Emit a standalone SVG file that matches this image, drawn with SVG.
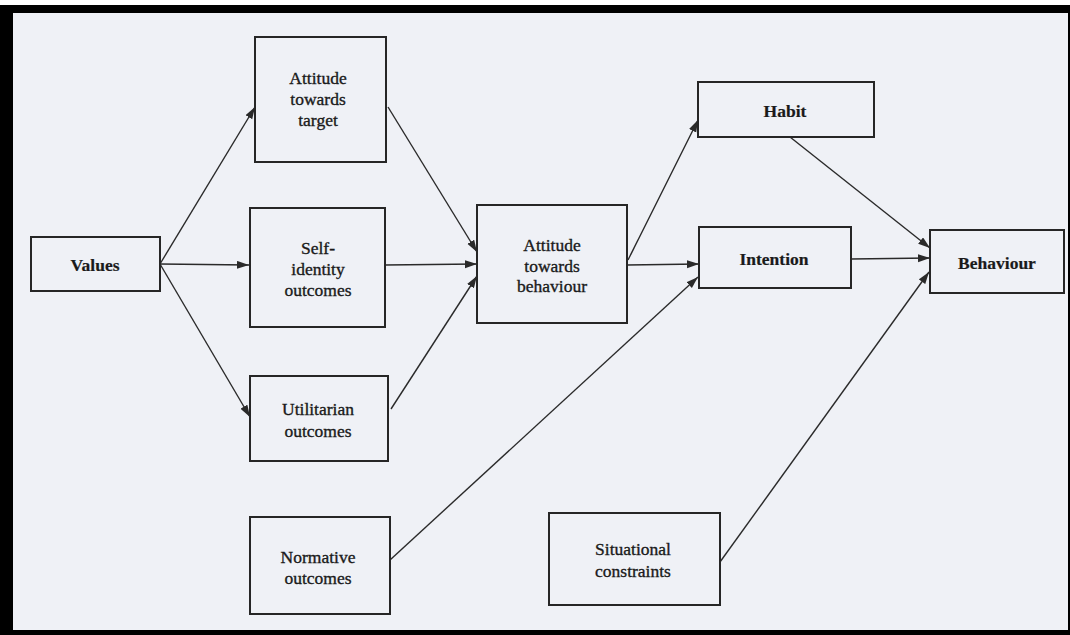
<svg xmlns="http://www.w3.org/2000/svg" width="1070" height="635" viewBox="0 0 1070 635">
<style>
.box{fill:none;stroke:#262626;stroke-width:2}
.lbl{font-family:"Liberation Serif","Times New Roman",serif;font-size:17.5px;fill:#1a1a1a;stroke:#1a1a1a;stroke-width:0.35;text-anchor:middle}
.b{font-weight:bold;stroke-width:0.2}
.edge{stroke:#2a2a2a;stroke-width:1.4;fill:none;marker-end:url(#ah)}
</style>
<defs>
<marker id="ah" markerUnits="userSpaceOnUse" markerWidth="13" markerHeight="9" refX="12" refY="4" orient="auto">
<path d="M0,0 L12,4 L0,8 Z" fill="#2a2a2a"/>
</marker>
</defs>
<rect x="0" y="0" width="1070" height="635" fill="#000"/>
<rect x="0" y="0" width="1070" height="5" fill="#fff"/>
<rect x="13" y="13" width="1055" height="617" fill="#eff1f6"/>
<g id="connectors">
<line class="edge" x1="160" y1="264" x2="255" y2="107"/>
<line class="edge" x1="160" y1="264" x2="249" y2="265"/>
<line class="edge" x1="160" y1="264" x2="250" y2="417"/>
<line class="edge" x1="388" y1="107" x2="477" y2="252"/>
<line class="edge" x1="385" y1="265" x2="477" y2="264"/>
<line class="edge" x1="391" y1="409" x2="477" y2="276"/>
<line class="edge" x1="628" y1="260" x2="698" y2="120"/>
<line class="edge" x1="627" y1="265" x2="699" y2="264"/>
<line class="edge" x1="390" y1="560" x2="698" y2="277"/>
<line class="edge" x1="790" y1="137" x2="930" y2="248"/>
<line class="edge" x1="851" y1="259" x2="930" y2="258"/>
<line class="edge" x1="720" y1="562" x2="929" y2="272"/>
</g>
<g id="values"><rect class="box" x="31" y="237" width="129" height="54"/><text class="lbl b" x="95" y="271">Values</text></g>
<g id="attitude-target"><rect class="box" x="255" y="37" width="131" height="125"/><text class="lbl" x="318" y="84">Attitude</text><text class="lbl" x="318" y="105">towards</text><text class="lbl" x="318" y="126">target</text></g>
<g id="self-identity"><rect class="box" x="250" y="208" width="135" height="119"/><text class="lbl" x="318" y="254">Self-</text><text class="lbl" x="318" y="275">identity</text><text class="lbl" x="318" y="296">outcomes</text></g>
<g id="utilitarian"><rect class="box" x="250" y="376" width="138" height="85"/><text class="lbl" x="318" y="415">Utilitarian</text><text class="lbl" x="318" y="437">outcomes</text></g>
<g id="normative"><rect class="box" x="250" y="517" width="140" height="97"/><text class="lbl" x="318" y="563">Normative</text><text class="lbl" x="318" y="584">outcomes</text></g>
<g id="attitude-behaviour"><rect class="box" x="477" y="205" width="150" height="118"/><text class="lbl" x="552" y="251">Attitude</text><text class="lbl" x="552" y="272">towards</text><text class="lbl" x="552" y="292">behaviour</text></g>
<g id="habit"><rect class="box" x="698" y="82" width="176" height="55"/><text class="lbl b" x="785" y="117">Habit</text></g>
<g id="intention"><rect class="box" x="699" y="227" width="152" height="61"/><text class="lbl b" x="774" y="265">Intention</text></g>
<g id="behaviour"><rect class="box" x="930" y="230" width="134" height="63"/><text class="lbl b" x="997" y="269">Behaviour</text></g>
<g id="situational"><rect class="box" x="549" y="513" width="171" height="92"/><text class="lbl" x="633" y="555">Situational</text><text class="lbl" x="633" y="577">constraints</text></g>
</svg>
